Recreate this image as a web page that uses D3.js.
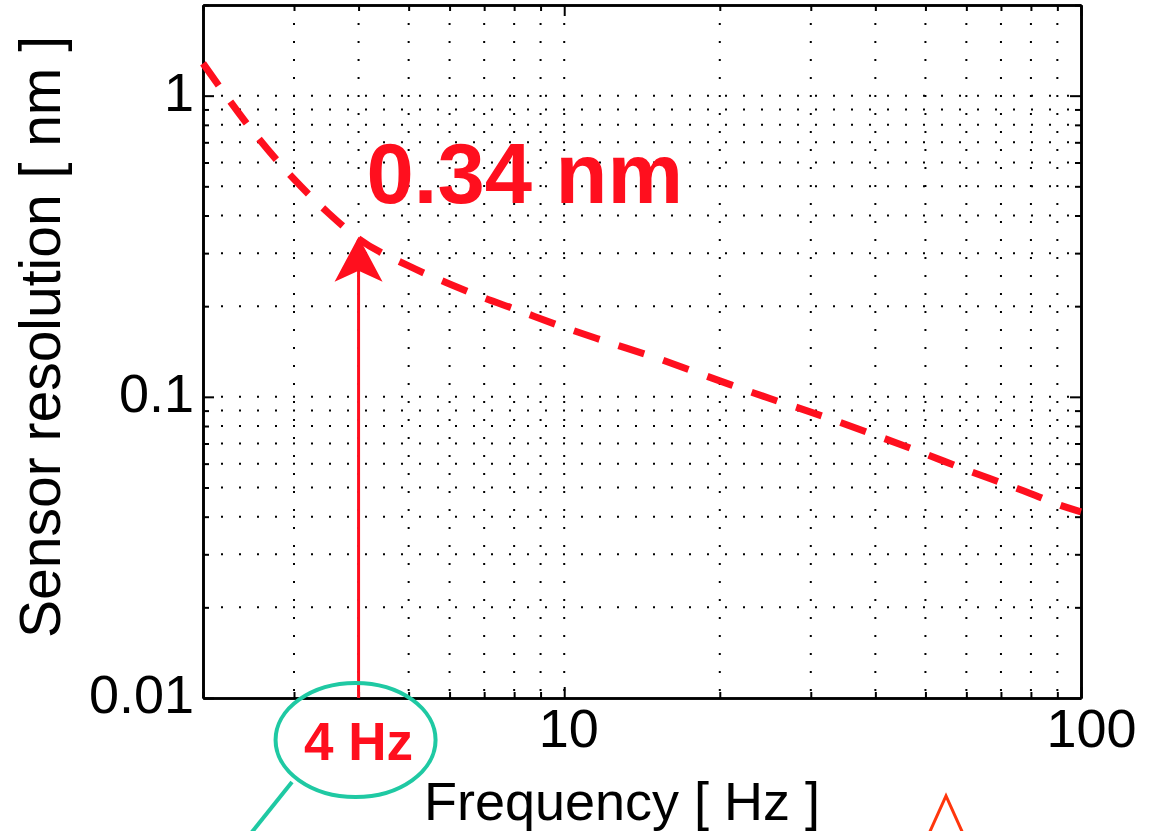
<!DOCTYPE html>
<html>
<head>
<meta charset="utf-8">
<script src="https://cdn.jsdelivr.net/npm/d3@7"></script>
<style>
  html, body { margin: 0; padding: 0; background: #fff; }
  svg { display: block; font-family: "Liberation Sans", Arial, sans-serif; }
  .axis path, .axis line { stroke: #000; }
  .axis path { stroke-width: 2.6; }
  .axis line { stroke-width: 2; }
  .axis text { font-size: 54px; fill: #000; }
  .grid line { stroke: #000; stroke-width: 2; stroke-dasharray: 2 16; }
</style>
</head>
<body>
<div id="chart"></div>
<script>
// values
const freq = [2, 2.5, 3, 3.5, 4, 5, 6, 7, 8, 10, 12, 15, 20, 25, 30, 40, 50, 60, 70, 80, 90, 100];
const resolution = [1.28, 0.76, 0.528, 0.407, 0.335, 0.272, 0.237, 0.213, 0.196, 0.170, 0.153, 0.135,
    0.113, 0.0987, 0.089, 0.0746, 0.0646, 0.0572, 0.0519, 0.0477, 0.044, 0.0415];

const xMajorTicks = [10, 100];
const xMinorTicks = [2, 3, 4, 5, 6, 7, 8, 9, 20, 30, 40, 50, 60, 70, 80, 90];
const yMajorTicks = [0.01, 0.1, 1];
const yMinorTicks = [0.02, 0.03, 0.04, 0.05, 0.06, 0.07, 0.08, 0.09,
    0.2, 0.3, 0.4, 0.5, 0.6, 0.7, 0.8, 0.9, 2];
const yTickLabels = ["0.01", "0.1", "1"];

const markFreq = 4;
const markValue = 0.34;
const markValueLabel = "0.34 nm";
const markFreqLabel = "4 Hz";

(function draw() {
    const W = 1155, H = 831;
    const pLeft = 203, pRight = 1081, pTop = 5, pBottom = 698;
    const red = "#ff0f1e";
    const teal = "#1fc9a3";

    const svg = d3.select("#chart").append("svg")
        .attr("width", W).attr("height", H);

    const x = d3.scaleLog().domain([2, 100]).range([pLeft, pRight]);
    const y = d3.scaleLog().domain([0.01, 2]).range([pBottom, pTop]);

    // dotted grid
    const grid = svg.append("g").attr("class", "grid");
    grid.selectAll("line.gx")
        .data(xMajorTicks.concat(xMinorTicks).filter(d => d > 2 && d < 100))
        .join("line").attr("class", "gx")
        .attr("x1", d => x(d)).attr("x2", d => x(d))
        .attr("y1", pTop).attr("y2", pBottom);
    grid.selectAll("line.gy")
        .data(yMajorTicks.concat(yMinorTicks).filter(d => d > 0.01 && d < 2))
        .join("line").attr("class", "gy")
        .attr("y1", d => y(d)).attr("y2", d => y(d))
        .attr("x1", pLeft).attr("x2", pRight);

    // axes, ticks pointing inward
    function addAxis(gen, tx, ty) {
        return svg.append("g").attr("class", "axis")
            .attr("transform", `translate(${tx},${ty})`)
            .call(gen);
    }
    addAxis(d3.axisBottom(x).tickValues(xMinorTicks).tickSize(-6).tickSizeOuter(0).tickFormat(""), 0, pBottom);
    const xMaj = addAxis(d3.axisBottom(x).tickValues(xMajorTicks).tickSize(-11).tickSizeOuter(0)
        .tickPadding(11).tickFormat(d3.format("d")), 0, pBottom);
    xMaj.selectAll("text").attr("dx", d => d === 100 ? 10 : 4);
    addAxis(d3.axisTop(x).tickValues(xMinorTicks).tickSize(-6).tickSizeOuter(0).tickFormat(""), 0, pTop);
    addAxis(d3.axisTop(x).tickValues(xMajorTicks).tickSize(-11).tickSizeOuter(0).tickFormat(""), 0, pTop);

    addAxis(d3.axisLeft(y).tickValues(yMinorTicks).tickSize(-6).tickSizeOuter(0).tickFormat(""), pLeft, 0);
    const yMaj = addAxis(d3.axisLeft(y).tickValues(yMajorTicks).tickSize(-11).tickSizeOuter(0)
        .tickPadding(9).tickFormat((d, i) => yTickLabels[i]), pLeft, 0);
    yMaj.selectAll("text").attr("dy", "0.27em");
    addAxis(d3.axisRight(y).tickValues(yMinorTicks).tickSize(-6).tickSizeOuter(0).tickFormat(""), pRight, 0);
    addAxis(d3.axisRight(y).tickValues(yMajorTicks).tickSize(-11).tickSizeOuter(0).tickFormat(""), pRight, 0);

    // axis titles
    svg.append("text")
        .attr("x", 622).attr("y", 820)
        .attr("text-anchor", "middle")
        .attr("font-size", 54)
        .text("Frequency [ Hz ]");

    svg.append("text")
        .attr("transform", "translate(60,337) rotate(-90)")
        .attr("text-anchor", "middle")
        .attr("font-size", 57)
        .text("Sensor resolution [ nm ]");

    // dashed resolution curve
    const line = d3.line()
        .x((d, i) => x(freq[i]))
        .y(d => y(d))
        .curve(d3.curveMonotoneX);

    svg.append("path")
        .datum(resolution)
        .attr("d", line)
        .attr("fill", "none")
        .attr("stroke", red)
        .attr("stroke-width", 7)
        .attr("stroke-dasharray", "27 20");

    // arrow at 4 Hz
    const ax = x(markFreq), ay = y(markValue);
    svg.append("line")
        .attr("x1", ax).attr("x2", ax)
        .attr("y1", pBottom).attr("y2", ay + 30)
        .attr("stroke", red).attr("stroke-width", 3);
    svg.append("path")
        .attr("d", `M${ax},${ay} L${ax + 24},${ay + 45} L${ax},${ay + 34} L${ax - 24},${ay + 45} Z`)
        .attr("fill", red);

    svg.append("text")
        .attr("x", ax + 8).attr("y", 203)
        .attr("font-size", 85).attr("font-weight", "bold")
        .attr("fill", red)
        .text(markValueLabel);

    // highlighted frequency label
    svg.append("ellipse")
        .attr("cx", ax - 3).attr("cy", 740)
        .attr("rx", 80).attr("ry", 57)
        .attr("fill", "none")
        .attr("stroke", teal).attr("stroke-width", 4);
    svg.append("line")
        .attr("x1", 292).attr("y1", 782)
        .attr("x2", 244).attr("y2", 842)
        .attr("stroke", teal).attr("stroke-width", 4);
    svg.append("text")
        .attr("x", ax).attr("y", 760)
        .attr("text-anchor", "middle")
        .attr("font-size", 53).attr("font-weight", "bold")
        .attr("fill", red)
        .text(markFreqLabel);

    // fragment of a marker cut off at the bottom edge
    svg.append("polyline")
        .attr("points", "927,838 946,796 965,838")
        .attr("fill", "none")
        .attr("stroke", "#ff360c").attr("stroke-width", 3);
})();
</script>
</body>
</html>
